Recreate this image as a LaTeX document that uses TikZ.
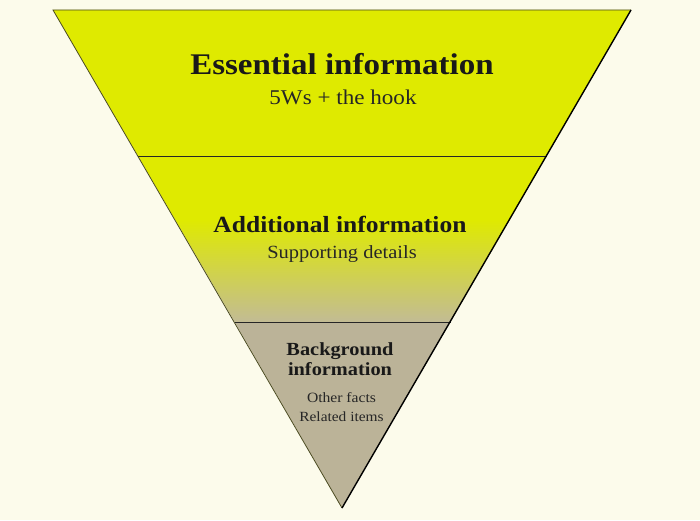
\documentclass[tikz,border=0pt]{standalone}
\usepackage{fontspec}
\setmainfont[FakeStretch=1.1]{Liberation Serif}
\definecolor{bgcream}{HTML}{FCFBEB}
\definecolor{topyellow}{HTML}{DFEA00}
\definecolor{midtan}{HTML}{C2BB96}
\definecolor{bottan}{HTML}{BBB398}
\definecolor{edgeolive}{HTML}{4A4A20}
\begin{document}
\begin{tikzpicture}[x=1pt,y=1pt,
  title/.style={anchor=base,font=\bfseries\fontsize{#1}{#1}\selectfont,text=black!90},
  sub/.style={anchor=base,font=\fontsize{#1}{#1}\selectfont,text=black!85},
  bandline/.style={draw=black!85,line width=0.9pt}]
\fill[bgcream] (0,0) rectangle (700,520);
\useasboundingbox (0,0) rectangle (700,520);
% geometry
\coordinate (TL) at (53,510);
\coordinate (TR) at (631,510);
\coordinate (A) at (342,12);
\coordinate (L1) at (138,364);
\coordinate (R1) at (546.6,364);
\coordinate (L2) at (234.7,198);
\coordinate (R2) at (450.6,198);
% top band
\fill[topyellow] (TL) -- (TR) -- (R1) -- (L1) -- cycle;
% middle band with gradient
\begin{scope}
\clip (L1) -- (R1) -- (R2) -- (L2) -- cycle;
\fill[topyellow] (100,364) rectangle (600,300);
\shade[top color=topyellow,bottom color=midtan] (100,300.5) rectangle (600,197);
\end{scope}
% bottom band
\fill[bottan] (L2) -- (R2) -- (A) -- cycle;
% band lines
\draw[bandline] (L1) -- (R1);
\draw[bandline] (L2) -- (R2);
% outline
\draw[edgeolive,line width=0.8pt,line join=miter] (A) -- (TL) -- (TR);
\draw[black,line width=1.4pt] (TR) -- (A);
% texts
\node[title=30] (ess) at (342,445) {Essential information};
\node[sub=21] (esssub) at (343,415.5) {5Ws + the hook};
\node[title=23.2] (add) at (340,288) {Additional information};
\node[sub=18.6] (addsub) at (342,262) {Supporting details};
\node[title=18.5] (bg1) at (340,165) {Background};
\node[title=18.5] (bg2) at (340,145) {information};
\node[sub=14.2] (bgs1) at (341.5,118) {Other facts};
\node[sub=14] (bgs2) at (341.5,99) {Related items};
\end{tikzpicture}
\end{document}
